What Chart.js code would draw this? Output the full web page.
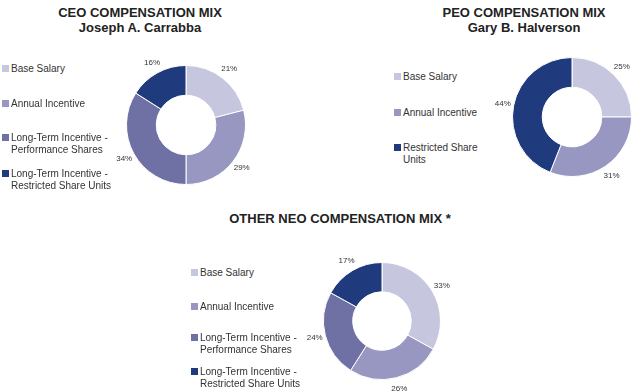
<!DOCTYPE html>
<html>
<head>
<meta charset="utf-8">
<script src="https://cdn.jsdelivr.net/npm/chart.js@4.4.1/dist/chart.umd.min.js"></script>
<style>
    body {
        margin: 0;
        background: #fff;
        width: 640px;
        height: 391px;
        position: relative;
        overflow: hidden;
        font-family: "Liberation Sans", Arial, sans-serif;
    }
    .title {
        position: absolute;
        font-weight: bold;
        font-size: 13px;
        line-height: 15px;
        color: #222;
        text-align: center;
        transform: translateX(-50%);
        white-space: nowrap;
    }
    .leg {
        position: absolute;
        font-size: 10px;
        line-height: 12px;
        color: #333;
        padding-left: 9px;
        white-space: pre;
    }
    .leg i {
        position: absolute;
        left: 0;
        top: 2px;
        width: 7px;
        height: 7px;
    }
    canvas { position: absolute; }
</style>
</head>
<body>

<div class="title" style="left:140px;top:5px">CEO COMPENSATION MIX<br>Joseph A. Carrabba</div>
<div class="title" style="left:524px;top:5px">PEO COMPENSATION MIX<br>Gary B. Halverson</div>
<div class="title" style="left:340px;top:211px">OTHER NEO COMPENSATION MIX *</div>

<canvas id="ceoChart" width="172" height="172" style="left:100px;top:39px"></canvas>
<canvas id="peoChart" width="172" height="172" style="left:486px;top:31px"></canvas>
<canvas id="neoChart" width="170" height="170" style="left:297px;top:236px"></canvas>

<script>
// ---- data ----
const ceoCategories = ["Base Salary", "Annual Incentive", "Long-Term Incentive -\nPerformance Shares", "Long-Term Incentive -\nRestricted Share Units"];
const ceoValues = [21, 29, 34, 16];

const peoCategories = ["Base Salary", "Annual Incentive", "Restricted Share\nUnits"];
const peoValues = [25, 31, 44];

const neoCategories = ["Base Salary", "Annual Incentive", "Long-Term Incentive -\nPerformance Shares", "Long-Term Incentive -\nRestricted Share Units"];
const neoValues = [33, 26, 24, 17];

// colours
const cBase = "#c6c7df";
const cAnnual = "#9797c2";
const cPerf = "#6f71a4";
const cRsu = "#1f3b7d";

const ceoColors = [cBase, cAnnual, cPerf, cRsu];
const peoColors = [cBase, cAnnual, cRsu];
const neoColors = [cBase, cAnnual, cPerf, cRsu];

// percent labels outside each slice
const pctLabels = {
    id: "pctLabels",
    afterDatasetsDraw(chart) {
        const ctx = chart.ctx;
        const meta = chart.getDatasetMeta(0);
        const values = chart.data.datasets[0].data;
        ctx.save();
        ctx.font = '8px "Liberation Sans", Arial, sans-serif';
        ctx.fillStyle = "#333";
        ctx.textAlign = "center";
        ctx.textBaseline = "middle";
        meta.data.forEach((arc, i) => {
            const p = arc.getProps(["x", "y", "startAngle", "endAngle", "outerRadius"], true);
            const a = (p.startAngle + p.endAngle) / 2;
            const r = p.outerRadius + 11;
            ctx.fillText(values[i] + "%", p.x + Math.cos(a) * r, p.y + Math.sin(a) * r);
        });
        ctx.restore();
    }
};

function makeDoughnut(id, labels, values, colors) {
    return new Chart(document.getElementById(id), {
        type: "doughnut",
        data: {
            labels: labels,
            datasets: [{
                data: values,
                backgroundColor: colors,
                borderColor: "#ffffff",
                borderWidth: 1
            }]
        },
        options: {
            responsive: false,
            animation: false,
            cutout: "50%",
            layout: { padding: 26 },
            plugins: {
                legend: { display: false },
                tooltip: { enabled: false }
            }
        },
        plugins: [pctLabels]
    });
}

// html legend built from the category arrays
function makeLegend(left, tops, labels, colors) {
    labels.forEach((lab, i) => {
        const d = document.createElement("div");
        d.className = "leg";
        d.style.left = left + "px";
        d.style.top = tops[i] + "px";
        const sw = document.createElement("i");
        sw.style.background = colors[i];
        d.appendChild(sw);
        d.appendChild(document.createTextNode(lab));
        document.body.appendChild(d);
    });
}

makeDoughnut("ceoChart", ceoCategories, ceoValues, ceoColors);
makeDoughnut("peoChart", peoCategories, peoValues, peoColors);
makeDoughnut("neoChart", neoCategories, neoValues, neoColors);

makeLegend(2, [63, 98, 132, 168], ceoCategories, ceoColors);
makeLegend(394, [71, 107, 142], peoCategories, peoColors);
makeLegend(191, [267, 301, 332, 366], neoCategories, neoColors);
</script>
</body>
</html>
